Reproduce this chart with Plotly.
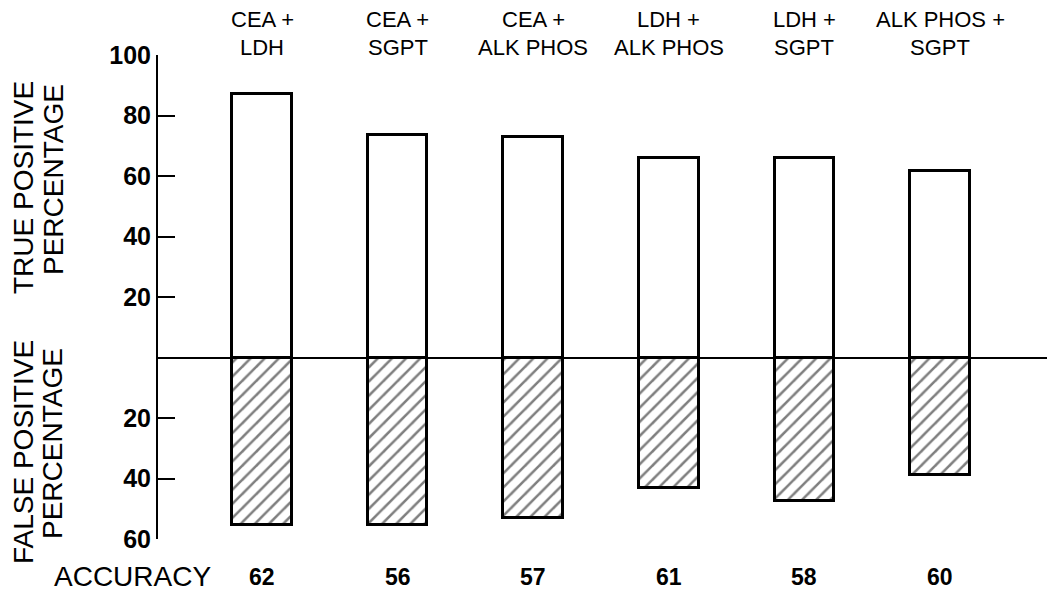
import plotly.graph_objects as go

categories = ["CEA +<br>LDH", "CEA +<br>SGPT", "CEA +<br>ALK PHOS",
              "LDH +<br>ALK PHOS", "LDH +<br>SGPT", "ALK PHOS +<br>SGPT"]
true_positive = [87, 73.5, 73, 66, 66, 61.5]
false_positive = [55.5, 55.5, 53, 43, 47.5, 39]
accuracy = [62, 56, 57, 61, 58, 60]
tick_vals = [100, 80, 60, 40, 20, -20, -40, -60]
tick_text = ["100", "80", "60", "40", "20", "20", "40", "60"]

FONT = "Liberation Sans, Arial, Helvetica, sans-serif"
x_idx = list(range(len(categories)))

fig = go.Figure()
fig.add_trace(go.Bar(
    x=x_idx, y=true_positive, width=0.44,
    marker=dict(color="white", line=dict(color="black", width=3)),
    showlegend=False, hoverinfo="skip"))
fig.add_trace(go.Bar(
    x=x_idx, y=[-v for v in false_positive], width=0.44,
    marker=dict(color="white", line=dict(color="black", width=3),
                pattern=dict(shape="/", fgcolor="black", bgcolor="white",
                             size=10, solidity=0.25)),
    showlegend=False, hoverinfo="skip"))

for i, c in enumerate(categories):
    l1, l2 = c.split("<br>")
    fig.add_annotation(x=i, xref="x", y=(539 - 20) / 484, yref="paper",
                       text=l1, showarrow=False, yanchor="middle",
                       font=dict(family=FONT, size=22, color="black"))
    fig.add_annotation(x=i, xref="x", y=(539 - 47) / 484, yref="paper",
                       text=l2, showarrow=False, yanchor="middle",
                       font=dict(family=FONT, size=22, color="black"))

fig.add_annotation(x=(52 - 158) / 889, xref="paper", xanchor="left",
                   y=(539 - 576) / 484, yref="paper", yanchor="middle",
                   text="ACCURACY", showarrow=False,
                   font=dict(family=FONT, size=28, color="black"))
for i, a in enumerate(accuracy):
    fig.add_annotation(x=i, xref="x", y=(539 - 577) / 484, yref="paper",
                       yanchor="middle", text=str(a), showarrow=False,
                       font=dict(family=FONT, size=23, color="black", weight="bold"))

def vtitle(text, px, py):
    fig.add_annotation(x=(px - 158) / 889, xref="paper", y=(539 - py) / 484,
                       yref="paper", text=text, textangle=-90, showarrow=False,
                       xanchor="center", yanchor="middle",
                       font=dict(family=FONT, size=28, color="black"))

vtitle("TRUE POSITIVE", 23, 188)
vtitle("PERCENTAGE", 53, 180)
vtitle("FALSE POSITIVE", 23, 452)
vtitle("PERCENTAGE", 53, 444)

fig.update_layout(
    width=1047, height=584,
    margin=dict(l=150, r=8, t=47, b=53),
    paper_bgcolor="white", plot_bgcolor="white",
    barmode="relative", bargap=0,
    xaxis=dict(range=[-0.767, 5.789], showgrid=False, zeroline=False,
               showticklabels=False, ticks="", showline=False, fixedrange=True),
    yaxis=dict(range=[-60, 100], tickmode="array", tickvals=tick_vals,
               ticktext=tick_text, ticksuffix="\u2009\u2009",
               ticks="inside", ticklen=17, tickwidth=2, tickcolor="black",
               showline=True, linecolor="black", linewidth=2,
               showgrid=False, zeroline=True, zerolinecolor="black",
               zerolinewidth=2, layer="above traces",
               tickfont=dict(family=FONT, size=25, color="black", weight="bold")),
)

fig.write_html("out.html")
